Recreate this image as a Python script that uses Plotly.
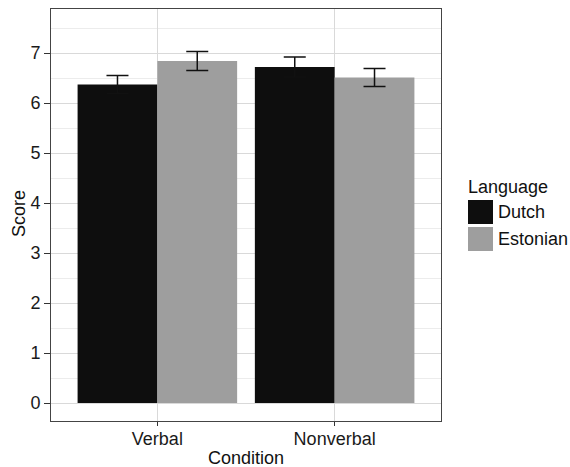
import plotly.graph_objects as go

conditions = ["Verbal", "Nonverbal"]
languages = ["Dutch", "Estonian"]
dutch_scores = [6.37, 6.72]
estonian_scores = [6.84, 6.51]
dutch_err = [0.18, 0.20]
estonian_err = [0.19, 0.18]
colors = {"Dutch": "#0e0e0e", "Estonian": "#9e9e9e"}

FONT = "Liberation Sans, Arial, Helvetica, sans-serif"
FS = 18
L, R, T, B = 51, 129, 9, 46
W, H = 570, 467

fig = go.Figure()
for lang, vals, errs in [("Dutch", dutch_scores, dutch_err), ("Estonian", estonian_scores, estonian_err)]:
    fig.add_trace(go.Bar(
        x=conditions, y=vals, name=lang,
        marker=dict(color=colors[lang], line=dict(width=0)),
        error_y=dict(type="data", array=errs, visible=True, color="#111111",
                     thickness=1.5, width=11),
        showlegend=False,
    ))

fig.update_layout(
    width=W, height=H,
    margin=dict(l=L, r=R, t=T, b=B),
    paper_bgcolor="white", plot_bgcolor="white",
    barmode="group", bargap=0.1, bargroupgap=0,
    font=dict(family=FONT, size=FS, color="#1a1a1a"),
    xaxis=dict(
        range=[-0.6, 1.6], showgrid=True, gridcolor="#d9d9d9", gridwidth=1,
        showline=True, mirror=True, linecolor="#444444", linewidth=1,
        ticks="outside", ticklen=4, tickcolor="#333333", ticklabelstandoff=-3,
        tickfont=dict(size=FS, color="#1a1a1a"),
        automargin=False, zeroline=False,
    ),
    yaxis=dict(
        range=[-0.36, 7.88], dtick=1, tick0=0, showgrid=True, gridcolor="#d9d9d9", gridwidth=1,
        minor=dict(dtick=0.5, showgrid=True, gridcolor="#ececec", gridwidth=1, ticks=""),
        showline=True, mirror=True, linecolor="#444444", linewidth=1,
        ticks="outside", ticklen=6, tickcolor="#333333",
        tickfont=dict(size=FS, color="#1a1a1a"),
        automargin=False, zeroline=False,
    ),
)

def px_to_paper_x(px):
    return (px - L) / (W - L - R)

def px_to_paper_y(py):
    return (H - B - py) / (H - T - B)

# axis titles
fig.add_annotation(x=px_to_paper_x(246), y=px_to_paper_y(458), xref="paper", yref="paper",
                   text="Condition", showarrow=False, xanchor="center", yanchor="middle",
                   font=dict(size=FS, color="#111111"))
fig.add_annotation(x=px_to_paper_x(19), y=px_to_paper_y(214), xref="paper", yref="paper",
                   text="Score", showarrow=False, xanchor="center", yanchor="middle", textangle=-90,
                   font=dict(size=FS, color="#111111"))

# manual legend (ggplot style keys)
fig.add_annotation(x=px_to_paper_x(466), y=px_to_paper_y(187), xref="paper", yref="paper",
                   text="Language", showarrow=False, xanchor="left", yanchor="middle",
                   font=dict(size=FS, color="#111111"))
keys = [("Dutch", 200, 224), ("Estonian", 227, 251)]
for lang, y0, y1 in keys:
    fig.add_shape(type="rect", xref="paper", yref="paper",
                  x0=px_to_paper_x(468), x1=px_to_paper_x(493),
                  y0=px_to_paper_y(y1), y1=px_to_paper_y(y0),
                  fillcolor=colors[lang], line=dict(width=0), layer="above")
    fig.add_annotation(x=px_to_paper_x(496), y=px_to_paper_y((y0 + y1) / 2), xref="paper", yref="paper",
                       text=lang, showarrow=False, xanchor="left", yanchor="middle",
                       font=dict(size=FS, color="#111111"))

fig.write_html("out.html", config={"displayModeBar": False},
               post_script="document.body.style.margin='0';")
